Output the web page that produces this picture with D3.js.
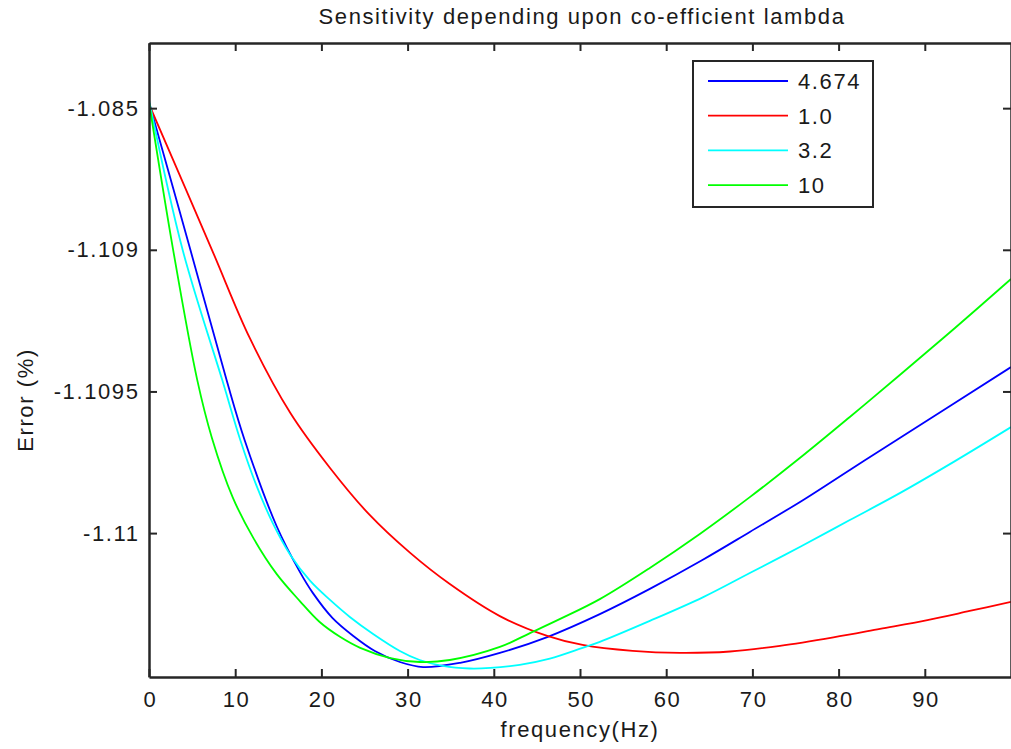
<!DOCTYPE html>
<html lang="en">
<head>
  <meta charset="UTF-8">
  <title>Sensitivity depending upon co-efficient lambda</title>
  <script src="https://d3js.org/d3.v7.min.js"></script>
  <style>
    body { margin: 0; background: #fff; }
    svg { display: block; }
    text { font-family: "Liberation Sans", Arial, sans-serif; fill: #1a1a1a; letter-spacing: 1.6px; }
    .axis path, .axis line { stroke: #262626; }
  </style>
</head>
<body>
  <svg width="1011" height="749"></svg>

  <script>
    // lambda values (legend order)
    const seriesNames = ['4.674', '1.0', '3.2', '10'];
    const seriesColors = ['#0000ff', '#ff0000', '#00ffff', '#00ff00'];

    // frequency (Hz) / error (%)
    const freqBlue = [0, 4.8, 9.0, 11.1, 14.8, 17.5, 19.0, 21.3, 23.7, 26.2, 29.1, 31.8, 36.1, 40.7, 46.2, 52.3,
      58.1, 64.2, 69.7, 75.9, 81.3, 87.1, 100];
    const errBlue = [-1.108479, -1.109, -1.10946, -1.109672, -1.109975, -1.110137, -1.110211, -1.1103, -1.110363,
      -1.110416, -1.110455, -1.110473, -1.110458, -1.110423, -1.110367, -1.110286, -1.110197, -1.110095, -1.109996,
      -1.109883, -1.109777, -1.109664, -1.109414];

    const freqRed = [0, 7.3, 11.7, 16.4, 21.0, 25.6, 30.3, 34.9, 40.7, 46.2, 50.3, 56.1, 61.6, 67.4, 73.2, 79.4,
      84.8, 90.3, 95.2, 100];
    const errRed = [-1.108486, -1.109, -1.109312, -1.109576, -1.10977, -1.109936, -1.11007, -1.11018, -1.110293,
      -1.110363, -1.110395, -1.110416, -1.110423, -1.110418, -1.110398, -1.110368, -1.110338, -1.110307, -1.110275,
      -1.110243];

    const freqCyan = [0, 3.9, 8.5, 10.6, 12.4, 14.3, 16.4, 18.7, 21.0, 23.3, 26.0, 29.1, 31.4, 34.1, 37.2, 39.6,
      43.0, 46.5, 50.3, 52.3, 58.1, 64.3, 69.7, 75.5, 81.3, 87.1, 93.5, 100];
    const errCyan = [-1.108472, -1.109, -1.10946, -1.109672, -1.109827, -1.109961, -1.110077, -1.110169, -1.110236,
      -1.110296, -1.110356, -1.110416, -1.110448, -1.110469, -1.110478, -1.110476, -1.110465, -1.110443, -1.110405,
      -1.110384, -1.11031, -1.110226, -1.110141, -1.110049, -1.109954, -1.109859, -1.109746, -1.109626];

    const freqGreen = [0, 2.8, 5.6, 7.3, 9.7, 12.1, 14.8, 17.5, 19.8, 22.2, 24.5, 28.0, 31.4, 34.9, 40.7, 44.2,
      47.7, 52.3, 58.1, 63.9, 69.7, 75.5, 81.3, 87.1, 93.5, 100];
    const errGreen = [-1.108479, -1.109, -1.10946, -1.109664, -1.109873, -1.110017, -1.110144, -1.11024, -1.110314,
      -1.110367, -1.110405, -1.110441, -1.110455, -1.110448, -1.110402, -1.110353, -1.110303, -1.110233, -1.110123,
      -1.110003, -1.109873, -1.109735, -1.10959, -1.109442, -1.109276, -1.109103];

    const xTicks = [0, 10, 20, 30, 40, 50, 60, 70, 80, 90];
    const yTicks = [-1.1085, -1.109, -1.1095, -1.11];
    const yTickLabels = ['-1.085', '-1.109', '-1.1095', '-1.11'];

    const series = [
      { freq: freqBlue, err: errBlue },
      { freq: freqRed, err: errRed },
      { freq: freqCyan, err: errCyan },
      { freq: freqGreen, err: errGreen }
    ];

    const plotLeft = 149, plotTop = 43, plotRight = 1011, plotBottom = 677;
    const svg = d3.select('svg');

    const x = d3.scaleLinear().domain([0, 100]).range([plotLeft, plotRight]);
    const y = d3.scaleLinear().domain([-1.110508, -1.10827]).range([plotBottom, plotTop]);

    svg.append('defs').append('clipPath').attr('id', 'plot')
      .append('rect').attr('x', plotLeft).attr('y', plotTop)
      .attr('width', plotRight - plotLeft).attr('height', plotBottom - plotTop);

    const line = d3.line()
      .x(d => x(d[0]))
      .y(d => y(d[1]))
      .curve(d3.curveCatmullRom.alpha(0.5));

    svg.append('g').attr('clip-path', 'url(#plot)')
      .selectAll('path')
      .data(series)
      .enter()
      .append('path')
      .attr('fill', 'none')
      .attr('stroke', (d, i) => seriesColors[i])
      .attr('stroke-width', 1.8)
      .attr('d', d => line(d.freq.map((f, i) => [f, d.err[i]])));

    const fontSize = '22px';
    const tickLen = 8;

    // bottom axis
    const xAxis = svg.append('g').attr('class', 'axis')
      .attr('transform', `translate(0,${plotBottom})`)
      .call(d3.axisBottom(x).tickValues(xTicks).tickSizeInner(-tickLen).tickSizeOuter(0).tickPadding(14));
    xAxis.select('.domain').attr('stroke-width', 2.5);
    xAxis.selectAll('line').attr('stroke-width', 2);
    xAxis.selectAll('text').style('font-size', fontSize).attr('fill', '#1a1a1a').attr('dx', '0.8');

    // top axis (mirrored ticks)
    const xTop = svg.append('g').attr('class', 'axis')
      .attr('transform', `translate(0,${plotTop})`)
      .call(d3.axisTop(x).tickValues(xTicks).tickSizeInner(-tickLen).tickSizeOuter(0).tickFormat(''));
    xTop.select('.domain').attr('stroke-width', 2.5);
    xTop.selectAll('line').attr('stroke-width', 2);

    // left axis
    const yAxis = svg.append('g').attr('class', 'axis')
      .attr('transform', `translate(${plotLeft},0)`)
      .call(d3.axisLeft(y).tickValues(yTicks).tickSizeInner(-tickLen).tickSizeOuter(0)
        .tickPadding(9.5).tickFormat((d, i) => yTickLabels[i]));
    yAxis.select('.domain').attr('stroke-width', 2.5);
    yAxis.selectAll('line').attr('stroke-width', 2);
    yAxis.selectAll('text').style('font-size', fontSize).attr('fill', '#1a1a1a');

    // right axis (mostly off canvas)
    const yRight = svg.append('g').attr('class', 'axis')
      .attr('transform', `translate(${plotRight},0)`)
      .call(d3.axisRight(y).tickValues(yTicks).tickSizeInner(-tickLen).tickSizeOuter(0).tickFormat(''));
    yRight.select('.domain').attr('stroke-width', 2.5);
    yRight.selectAll('line').attr('stroke-width', 2);

    // title and axis labels
    svg.append('text')
      .attr('x', 582).attr('y', 24)
      .attr('text-anchor', 'middle')
      .style('font-size', fontSize)
      .text('Sensitivity depending upon co-efficient lambda');

    svg.append('text')
      .attr('x', 580).attr('y', 737)
      .attr('text-anchor', 'middle')
      .style('font-size', fontSize)
      .text('frequency(Hz)');

    svg.append('text')
      .attr('transform', 'translate(33,400) rotate(-90)')
      .attr('text-anchor', 'middle')
      .style('font-size', fontSize)
      .text('Error (%)');

    // legend
    const legend = svg.append('g').attr('transform', 'translate(693,61)');
    legend.append('rect')
      .attr('width', 180).attr('height', 146)
      .attr('fill', '#fff').attr('stroke', '#262626').attr('stroke-width', 2);
    seriesNames.forEach((name, i) => {
      const ly = 20 + i * 34.7;
      legend.append('line')
        .attr('x1', 15).attr('x2', 95).attr('y1', ly).attr('y2', ly)
        .attr('stroke', seriesColors[i]).attr('stroke-width', 1.8);
      legend.append('text')
        .attr('x', 105).attr('y', ly + 8)
        .style('font-size', fontSize)
        .text(name);
    });
  </script>
</body>
</html>
